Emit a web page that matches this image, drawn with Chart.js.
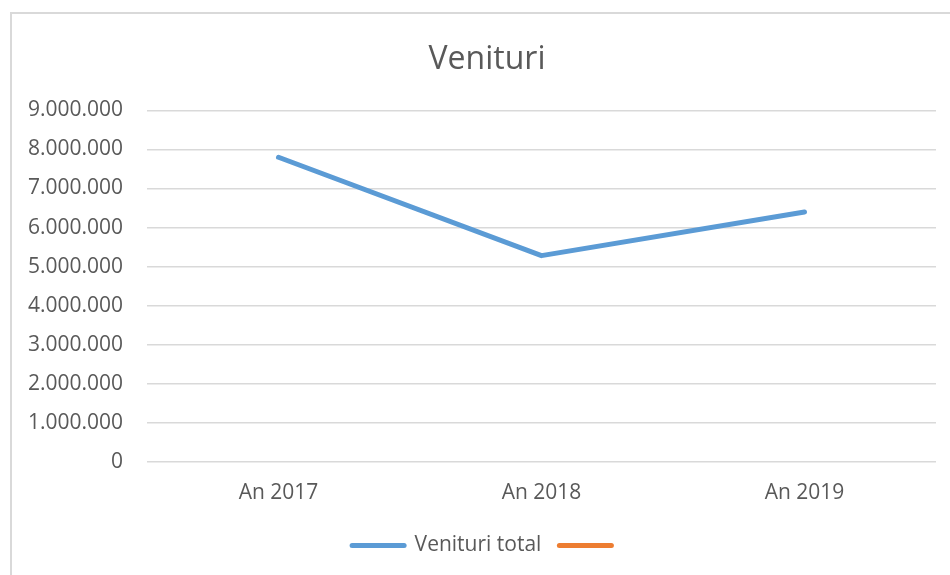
<!DOCTYPE html>
<html>
<head>
<meta charset="utf-8">
<script src="https://cdn.jsdelivr.net/npm/chart.js@4"></script>
<style>
  html, body { margin: 0; padding: 0; background: #fff; }
  #wrap { position: relative; width: 950px; height: 575px; }
  #frame { position: absolute; left: 10px; top: 12px; right: -5px; bottom: -5px; border-left: 2px solid #d9d9d9; border-top: 2px solid #d9d9d9; }
  canvas { position: absolute; left: 0; top: 0; }
</style>
</head>
<body>
<div id="wrap">
  <div id="frame"></div>
  <canvas id="c" width="950" height="575"></canvas>
</div>
<script>
const categories = ['An 2017', 'An 2018', 'An 2019'];
const venituriTotal = [7800000, 5280000, 6400000];
const seriesLabels = ['Venituri total', ''];
const yTicks = [0, 1000000, 2000000, 3000000, 4000000, 5000000, 6000000, 7000000, 8000000, 9000000];
const chartTitle = 'Venituri';

const FONT = '"Open Sans", "Liberation Sans", sans-serif';
const TXT = '#595959';

function fmt(v) {
  return String(Math.round(v)).replace(/\B(?=(\d{3})+(?!\d))/g, '.');
}

new Chart(document.getElementById('c'), {
  type: 'line',
  data: {
    labels: categories,
    datasets: [
      {
        label: seriesLabels[0],
        data: venituriTotal,
        borderColor: '#5b9bd5',
        backgroundColor: '#5b9bd5',
        borderWidth: 5,
        borderCapStyle: 'round',
        borderJoinStyle: 'round',
        pointRadius: 0,
        tension: 0
      },
      {
        label: seriesLabels[1],
        data: [],
        borderColor: '#ed7d31',
        backgroundColor: '#ed7d31',
        borderWidth: 5,
        borderCapStyle: 'round',
        pointRadius: 0
      }
    ]
  },
  options: {
    responsive: false,
    animation: false,
    layout: { padding: { left: 38, right: 14, top: 41, bottom: 9 } },
    plugins: {
      title: {
        display: true,
        text: chartTitle,
        color: TXT,
        font: { family: FONT, size: 32, weight: 'normal' },
        padding: { top: 0, bottom: 31 }
      },
      legend: {
        position: 'bottom',
        labels: {
          color: TXT,
          font: { family: FONT, size: 21 },
          usePointStyle: true,
          pointStyleWidth: 52,
          padding: 18,
          generateLabels(chart) {
            return chart.data.datasets.map((ds, i) => ({
              text: ds.label,
              fillStyle: ds.borderColor,
              strokeStyle: ds.borderColor,
              lineWidth: 5,
              lineCap: 'round',
              pointStyle: 'line',
              hidden: false,
              datasetIndex: i,
              fontColor: TXT
            }));
          }
        }
      },
      tooltip: { enabled: false }
    },
    scales: {
      x: {
        offset: true,
        grid: { display: false },
        border: { display: false },
        ticks: { color: TXT, font: { family: FONT, size: 21 }, padding: 11 }
      },
      y: {
        min: 0,
        max: 9000000,
        afterBuildTicks(scale) { scale.ticks = yTicks.map(v => ({ value: v })); },
        afterFit(scale) { scale.width = 109; },
        afterUpdate(scale) { scale._computeLabelArea = () => null; },
        grid: { color: '#d9d9d9', lineWidth: 1.5, drawTicks: false },
        border: { display: false },
        ticks: {
          color: TXT,
          font: { family: FONT, size: 21 },
          padding: 24,
          callback: (v) => fmt(v)
        }
      }
    }
  }
});
</script>
</body>
</html>
